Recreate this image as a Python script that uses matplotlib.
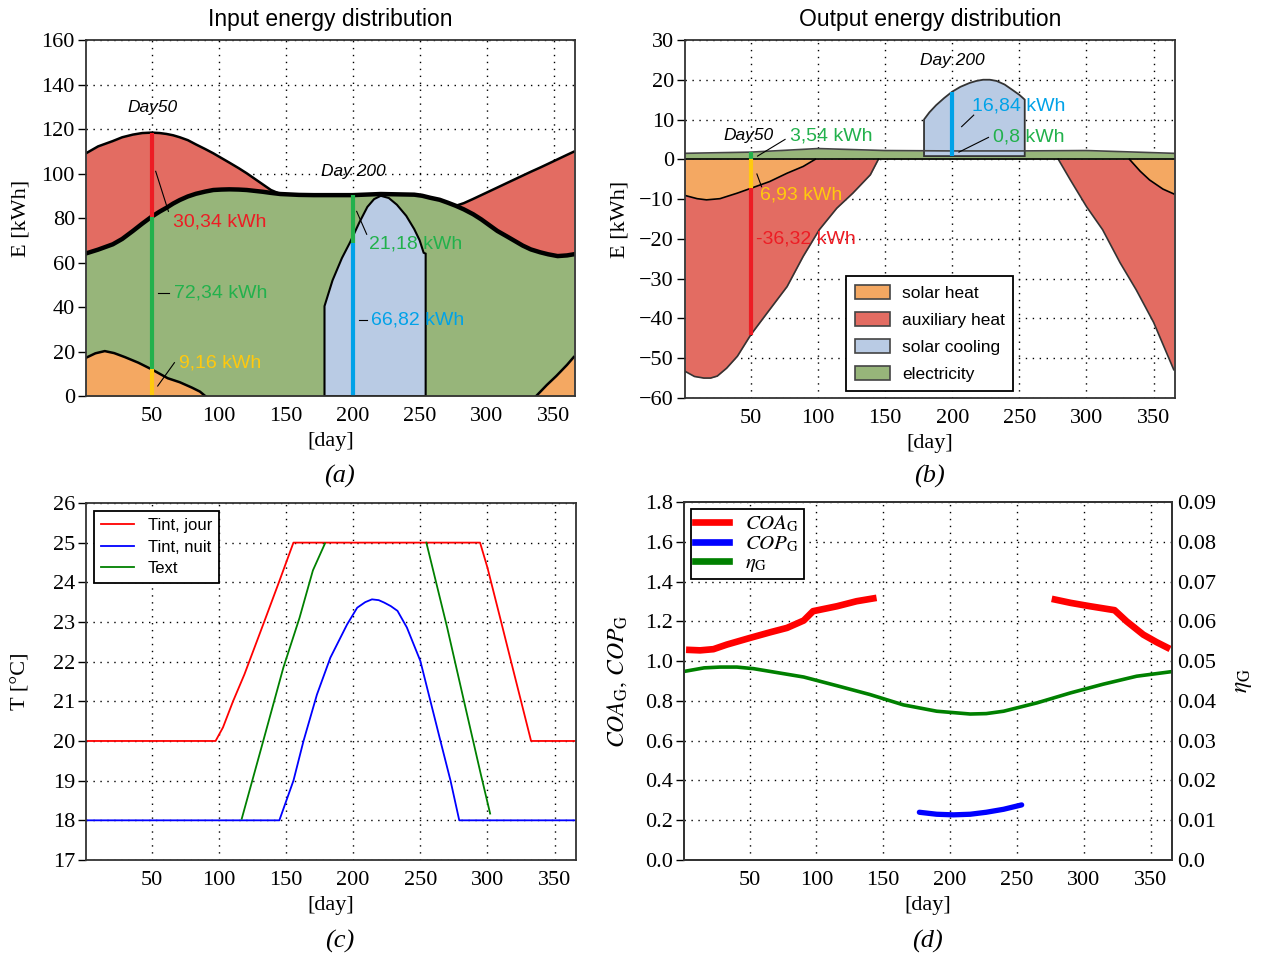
import numpy as np
import matplotlib
matplotlib.use("Agg")
import matplotlib.pyplot as plt
from matplotlib.patches import Patch
from matplotlib.lines import Line2D
from matplotlib.ticker import FuncFormatter

plt.rcParams['font.family'] = ['Liberation Serif', 'DejaVu Serif']
plt.rcParams['mathtext.fontset'] = 'stix'

SANS = ['Liberation Sans', 'DejaVu Sans']

# ---- (a) input energy distribution ----
a_day = [1, 10, 21, 28, 36, 43, 50, 56, 61, 66, 71, 77, 83, 90, 96, 102, 108, 115,
         121, 127, 133, 139, 146, 160, 171, 200, 221, 246, 252, 258, 265, 271, 277,
         283, 290, 296, 302, 308, 315, 321, 327, 333, 340, 346, 353, 360, 365]
a_elec = [64.1, 65.8, 68.2, 70.6, 74.2, 77.5, 80.6, 82.9, 84.6, 86.5, 88.1, 89.7,
          90.9, 91.9, 92.6, 92.8, 92.9, 92.8, 92.6, 92.2, 91.8, 91.3, 90.8, 90.4,
          90.3, 90.3, 90.8, 90.5, 90.0, 89.1, 88.2, 86.9, 85.5, 83.9, 81.7, 79.4,
          76.8, 74.2, 71.8, 69.7, 67.6, 65.9, 64.6, 63.7, 62.9, 63.2, 63.7]
a_total = [109.1, 112.2, 114.6, 116.3, 117.5, 118.2, 118.4, 118.2, 117.8, 117.2,
           116.3, 115.0, 113.1, 111.0, 109.1, 107.0, 104.9, 102.4, 100.1, 97.6,
           95.1, 92.6, 90.8, 90.4, 90.3, 90.3, 90.8, 90.5, 90.0, 89.1, 88.2, 86.9,
           85.5, 86.7, 88.6, 90.3, 92.0, 93.7, 95.7, 97.4, 99.1, 100.8, 102.7,
           104.4, 106.4, 108.4, 109.8]
a_sol_day1 = [1, 8, 15, 22, 30, 40, 50, 56, 62, 71, 80, 86, 90]
a_sol1 = [17.2, 19.2, 20.2, 19.3, 17.5, 15.0, 12.0, 10.0, 8.0, 6.2, 3.8, 2.0, 0.0]
a_sol_day2 = [337, 345, 352, 360, 365]
a_sol2 = [0.0, 5.0, 9.0, 14.0, 17.5]
a_cool_day = [179, 179, 185, 192, 198, 205, 211, 216, 221, 227, 233, 240, 246,
              250, 253, 254.5, 254.5]
a_cool = [0, 40.4, 52, 62, 69, 78, 85, 88.5, 90, 89, 86, 81, 75, 70, 64.4, 64, 0]

# ---- (b) output energy distribution ----
b_elec_day = [1, 50, 100, 150, 200, 250, 300, 365]
b_elec = [1.5, 1.8, 2.7, 2.2, 2.1, 2.1, 2.2, 1.5]
b_sol_day1 = [1, 10, 17, 27, 40, 50, 64, 77, 89, 98]
b_sol1 = [-9.1, -9.9, -10.2, -9.9, -8.5, -7.3, -5.6, -3.5, -1.8, 0.0]
b_sol_day2 = [332, 340, 347, 357, 365]
b_sol2 = [0.0, -3.0, -5.2, -7.5, -8.7]
b_aux_day1 = [1, 8, 15, 20, 25, 32, 40, 50, 64, 77, 89, 101, 114, 126, 139, 145]
b_aux1 = [-53.3, -54.6, -55.0, -55.0, -54.5, -52.5, -49.5, -44.1, -37.8, -32.0,
          -24.4, -17.7, -12.3, -8.5, -3.9, 0.0]
b_aux_day2 = [279, 288, 300, 312, 325, 337, 350, 365]
b_aux2 = [0.0, -5.2, -11.9, -17.7, -26.0, -32.8, -41.0, -52.9]
b_cool_day = [179, 179, 183, 188, 194, 200, 206, 213, 218, 223, 228, 233, 239, 245,
              250, 253, 254, 254]
b_cool = [0.8, 10, 11.8, 13.6, 15.4, 17, 18.2, 19.2, 19.7, 20, 20, 19.7, 18.8, 17.4,
          16.2, 15.3, 15, 0.8]

# ---- (c) temperatures ----
jour_day = [1, 97.5, 103, 110.5, 119, 133, 145, 155.5, 294.5, 300, 310, 320, 332.5, 365]
jour_T = [20, 20, 20.34, 21, 21.68, 22.94, 24.03, 25, 25, 24.37, 23.03, 21.68, 20, 20]
nuit_day = [1, 145, 155.5, 163, 173, 183, 195.5, 203, 209, 214, 219, 223, 228, 233,
            240, 250, 257.5, 265, 272.5, 279, 365]
nuit_T = [18, 18, 19, 20, 21.17, 22.1, 22.94, 23.36, 23.5, 23.57, 23.55, 23.49,
          23.4, 23.28, 22.86, 22.02, 21.01, 20, 19, 18, 18]
ext_day = [117, 133, 148, 160, 170, 179, np.nan, 254.5, 270, 282.5, 295, 302]
ext_T = [18.04, 20, 21.85, 23.1, 24.3, 24.98, np.nan, 25, 22.86, 21.01, 19.17, 18.17]

# ---- (d) performance ----
coa_day = [2.5, 13, 23, 33, 50, 65.5, 78, 90.5, 97.5, 115.5, 130, 145, np.nan,
           276, 290, 304.5, 323, 332, 344.5, 354.5, 364.5]
coa = [1.057, 1.054, 1.06, 1.083, 1.116, 1.145, 1.167, 1.204, 1.251, 1.276, 1.301,
       1.318, np.nan, 1.313, 1.293, 1.276, 1.256, 1.2, 1.133, 1.095, 1.061]
cop_day = [177, 190, 202.5, 215, 227, 240, 253.5]
cop = [0.24, 0.23, 0.227, 0.23, 0.24, 0.255, 0.277]
eta_day = [1, 16, 28, 40.5, 53, 65.5, 90.5, 115.5, 140, 165, 190, 215, 227, 240,
           265, 290, 314.5, 339.5, 364.5]
eta = [0.0474, 0.0483, 0.0485, 0.0485, 0.0481, 0.0474, 0.046, 0.0438, 0.0416,
       0.039, 0.0374, 0.0367, 0.0368, 0.0374, 0.0395, 0.042, 0.0442, 0.0462, 0.0473]

C_SOL = '#F4A862'
C_AUX = '#E36C62'
C_COOL = '#B9CBE4'
C_ELEC = '#97B57A'
T_RED = '#ED1C24'
T_GREEN = '#22B14C'
T_BLUE = '#00A2E8'
T_YEL = '#FFC90E'

day_ticks = [50, 100, 150, 200, 250, 300, 350]

fig = plt.figure(figsize=(12.63, 9.58), dpi=100)
axa = fig.add_axes([0.0681, 0.5866, 0.3872, 0.3716])
axb = fig.add_axes([0.5424, 0.5846, 0.3880, 0.3737])
axc = fig.add_axes([0.0681, 0.1023, 0.3880, 0.3727])
axd = fig.add_axes([0.5416, 0.1023, 0.3864, 0.3737])


def style(ax):
    ax.set_xlim(1, 366)
    ax.set_xticks(day_ticks)
    ax.grid(True, linestyle=(0, (1, 4)), color='k', linewidth=1.0)
    ax.set_axisbelow(True)
    ax.tick_params(axis='x', length=0, pad=8, labelsize=16)
    ax.tick_params(axis='y', direction='out', length=6, pad=2, labelsize=16, width=1)
    for s in ax.spines.values():
        s.set_color('#333333')
        s.set_linewidth(1.3)
    ax.set_xlabel('[day]', fontsize=16, labelpad=4)


# (a)
style(axa)
axa.set_ylim(0, 160)
axa.set_yticks(range(0, 161, 20))
axa.fill_between(a_day, 0, a_elec, color=C_ELEC, lw=0)
axa.fill_between(a_day, a_elec, a_total, color=C_AUX, lw=0)
axa.fill_between(a_sol_day1, 0, a_sol1, color=C_SOL, lw=0)
axa.fill_between(a_sol_day2, 0, a_sol2, color=C_SOL, lw=0)
axa.plot(a_sol_day1, a_sol1, color='k', lw=1.8)
axa.plot(a_sol_day2, a_sol2, color='k', lw=1.8)
axa.fill(a_cool_day, a_cool, facecolor=C_COOL, edgecolor='k', lw=1.5)
axa.plot(a_day, a_total, color='k', lw=1.8)
axa.plot(a_day, a_elec, color='k', lw=3.2)

s50 = np.interp(50, a_sol_day1, a_sol1)
e50 = np.interp(50, a_day, a_elec)
t50 = np.interp(50, a_day, a_total)
c200 = 69
e200 = np.interp(200, a_day, a_elec)
axa.vlines(50, 0, s50, color=T_YEL, lw=3)
axa.vlines(50, s50, e50, color=T_GREEN, lw=3)
axa.vlines(50, e50, t50, color=T_RED, lw=3)
axa.vlines(200, 0, c200, color=T_BLUE, lw=3)
axa.vlines(200, c200, e200, color=T_GREEN, lw=3)

axa.text(50.5, 129.5, 'Day50', family=SANS, style='italic', fontsize=12.5,
         ha='center', va='center')
axa.text(200.5, 100.7, 'Day 200', family=SANS, style='italic', fontsize=12.5,
         ha='center', va='center')
axa.text(66, 78, '30,34 kWh', family=SANS, color=T_RED, fontsize=14, va='center')
axa.plot([53, 62.5], [101, 83], color='k', lw=0.8)
axa.text(67, 46.4, '72,34 kWh', family=SANS, color=T_GREEN, fontsize=14, va='center')
axa.plot([55, 63], [46.4, 46.4], color='k', lw=0.8)
axa.text(214, 34, '66,82 kWh', family=SANS, color=T_BLUE, fontsize=14, va='center')
axa.plot([204.5, 210.5], [34, 34], color='k', lw=0.8)
axa.text(212.5, 68.2, '21,18 kWh', family=SANS, color=T_GREEN, fontsize=14, va='center')
axa.plot([203, 210.5], [83, 72.7], color='k', lw=0.8)
axa.text(70.5, 15, '9,16 kWh', family=SANS, color=T_YEL, fontsize=14, va='center')
axa.plot([54.5, 67], [4.5, 15], color='k', lw=0.8)
axa.set_ylabel('E [kWh]', fontsize=16)
axa.yaxis.set_label_coords(-0.114, 0.5)
axa.set_title('Input energy distribution', family=SANS, fontsize=16.5, pad=10)

# (b)
style(axb)
axb.set_ylim(-60, 30)
axb.set_yticks(range(-60, 31, 10))
axb.fill_between(b_elec_day, 0, b_elec, color=C_ELEC, lw=0)
axb.plot(b_elec_day, b_elec, color='#444444', lw=1.2)
axb.fill_between(b_aux_day1, 0, b_aux1, color=C_AUX, lw=0)
axb.fill_between(b_aux_day2, 0, b_aux2, color=C_AUX, lw=0)
axb.plot(b_aux_day1, b_aux1, color='#333333', lw=1.2)
axb.plot(b_aux_day2, b_aux2, color='#333333', lw=1.2)
axb.fill_between(b_sol_day1, 0, b_sol1, color=C_SOL, lw=0)
axb.fill_between(b_sol_day2, 0, b_sol2, color=C_SOL, lw=0)
axb.plot(b_sol_day1, b_sol1, color='k', lw=1.2)
axb.plot(b_sol_day2, b_sol2, color='k', lw=1.2)
axb.axhline(0, color='k', lw=1.2)
axb.fill(b_cool_day, b_cool, facecolor=C_COOL, edgecolor='#333333', lw=1.3)

be50 = np.interp(50, b_elec_day, b_elec)
bs50 = np.interp(50, b_sol_day1, b_sol1)
ba50 = np.interp(50, b_aux_day1, b_aux1)
axb.vlines(50, 0, be50, color=T_GREEN, lw=3)
axb.vlines(50, 0, bs50, color=T_YEL, lw=3)
axb.vlines(50, bs50, ba50, color=T_RED, lw=3)
axb.vlines(200, 0.8, 17, color=T_BLUE, lw=3)

axb.text(48.5, 5.9, 'Day50', family=SANS, style='italic', fontsize=12.5,
         ha='center', va='center')
axb.text(200, 24.8, 'Day 200', family=SANS, style='italic', fontsize=12.5,
         ha='center', va='center')
axb.text(79, 5.9, '3,54 kWh', family=SANS, color=T_GREEN, fontsize=14, va='center')
axb.plot([55, 75.5], [0.8, 5], color='k', lw=0.8)
axb.text(214.5, 13.4, '16,84 kWh', family=SANS, color=T_BLUE, fontsize=14, va='center')
axb.plot([207, 216], [8.2, 11.1], color='k', lw=0.8)
axb.text(230.5, 5.5, '0,8 kWh', family=SANS, color=T_GREEN, fontsize=14, va='center')
axb.plot([205, 227], [1.8, 5.5], color='k', lw=0.8)
axb.text(57, -9, '6,93 kWh', family=SANS, color=T_YEL, fontsize=14, va='center')
axb.plot([54.5, 58], [-3.7, -6.9], color='k', lw=0.8)
axb.text(53.5, -20.1, '-36,32 kWh', family=SANS, color=T_RED, fontsize=14, va='center')

handles = [Patch(facecolor=C_SOL, edgecolor='#444444', lw=1.2, label='solar heat'),
           Patch(facecolor=C_AUX, edgecolor='#444444', lw=1.2, label='auxiliary heat'),
           Patch(facecolor=C_COOL, edgecolor='#444444', lw=1.2, label='solar cooling'),
           Patch(facecolor=C_ELEC, edgecolor='#444444', lw=1.2, label='electricity')]
leg = axb.legend(handles=handles, loc='lower left', bbox_to_anchor=(0.329, 0.02),
                 prop={'family': SANS, 'size': 12.5}, fancybox=False, edgecolor='k',
                 framealpha=1, labelspacing=0.62, handlelength=2.0, handleheight=0.9,
                 borderpad=0.5, handletextpad=0.7, borderaxespad=0)
leg.get_frame().set_linewidth(1.3)
axb.set_ylabel('E [kWh]', fontsize=16)
axb.yaxis.set_label_coords(-0.114, 0.5)
axb.set_title('Output energy distribution', family=SANS, fontsize=16.5, pad=10)

# (c)
style(axc)
axc.set_ylim(17, 26)
axc.set_yticks(range(17, 27))
axc.plot(jour_day, jour_T, color='#FF0000', lw=1.3, label='Tint, jour')
axc.plot(nuit_day, nuit_T, color='#0000FF', lw=1.3, label='Tint, nuit')
axc.plot(ext_day, ext_T, color='#008000', lw=1.3, label='Text')
leg = axc.legend(loc='upper left', prop={'family': SANS, 'size': 12}, fancybox=False,
                 edgecolor='k', framealpha=1, labelspacing=0.4, handlelength=2.0,
                 borderpad=0.4, borderaxespad=0.5)
leg.get_frame().set_linewidth(1.3)
axc.set_ylabel('T [°C]', fontsize=16)
axc.yaxis.set_label_coords(-0.114, 0.5)

# (d)
style(axd)
axd.set_ylim(0, 1.8)
axd.set_yticks(np.arange(0, 1.81, 0.2))
axd.yaxis.set_major_formatter(FuncFormatter(lambda v, p: f'{v:.1f}'))
axd.plot(coa_day, coa, color='#FF0000', lw=4.8, solid_capstyle='butt')
axd.plot(cop_day, cop, color='#0000FF', lw=3.8, solid_capstyle='round')
axr = axd.twinx()
axr.set_ylim(0, 0.09)
axr.set_yticks(np.arange(0, 0.091, 0.01))
axr.yaxis.set_major_formatter(FuncFormatter(lambda v, p: '0.0' if abs(v) < 1e-9 else f'{v:.2f}'))
axr.tick_params(axis='y', length=0, labelsize=16, pad=4)
for s in axr.spines.values():
    s.set_color('#333333')
    s.set_linewidth(1.3)
axr.plot(eta_day, eta, color='#008000', lw=2.6)
axd.set_ylabel(r'$COA_{\mathrm{G}},\, COP_{\mathrm{G}}$', fontsize=17)
axd.yaxis.set_label_coords(-0.112, 0.5)
axr.set_ylabel(r'$\eta_{\mathrm{G}}$', fontsize=17)
axr.yaxis.set_label_coords(1.125, 0.5)
dh = [Line2D([], [], color='#FF0000', lw=4.8),
      Line2D([], [], color='#0000FF', lw=4.8),
      Line2D([], [], color='#008000', lw=4.8)]
leg = axr.legend(dh, [r'$COA_{\mathrm{G}}$', r'$COP_{\mathrm{G}}$', r'$\eta_{\mathrm{G}}$'],
                 loc='upper left', fontsize=15, fancybox=False, edgecolor='k',
                 framealpha=1, labelspacing=0.0, handlelength=1.6, borderpad=0.2,
                 borderaxespad=0.35)
leg.get_frame().set_linewidth(1.3)

fig.text(0.269, 0.503, '(a)', fontsize=19, style='italic', ha='center', va='center')
fig.text(0.736, 0.503, '(b)', fontsize=19, style='italic', ha='center', va='center')
fig.text(0.269, 0.017, '(c)', fontsize=19, style='italic', ha='center', va='center')
fig.text(0.734, 0.017, '(d)', fontsize=19, style='italic', ha='center', va='center')

fig.savefig('out.png', dpi=100)
